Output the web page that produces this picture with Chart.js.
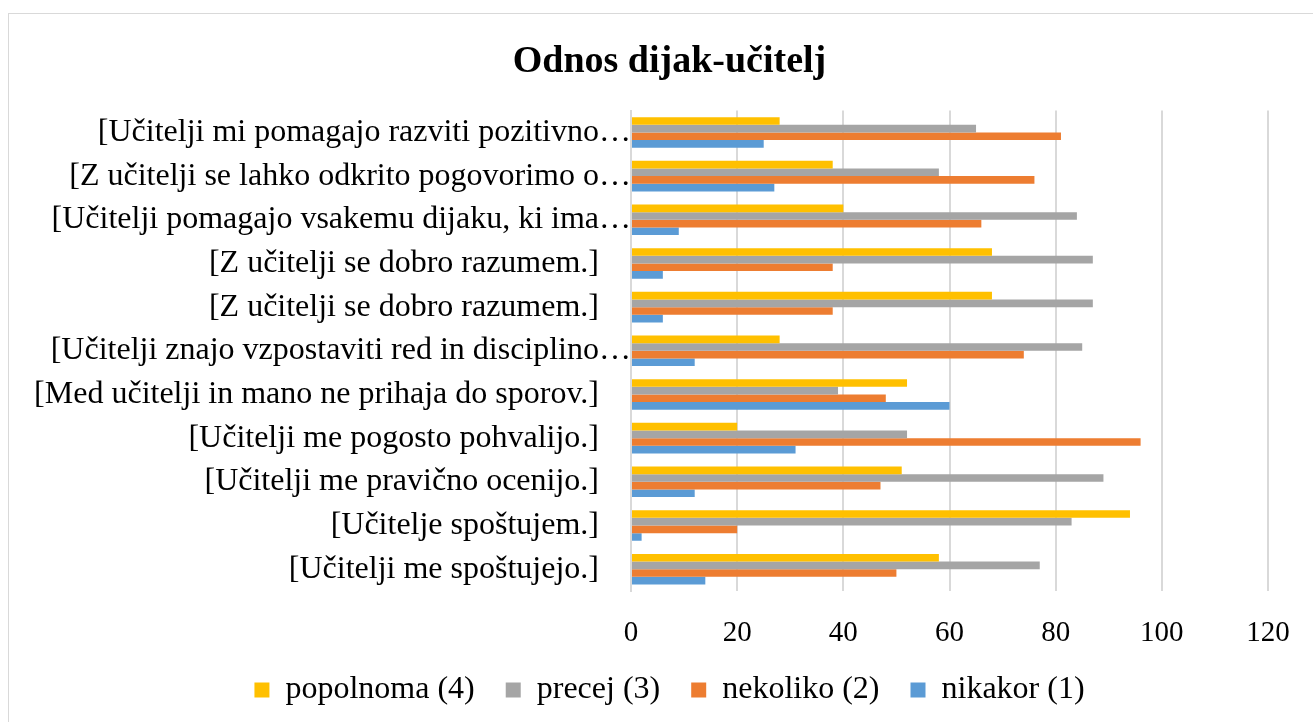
<!DOCTYPE html>
<html>
<head>
<meta charset="utf-8">
<script src="https://cdn.jsdelivr.net/npm/chart.js@4.4.1/dist/chart.umd.min.js"></script>
<style>
  body { margin: 0; background: #fff; }
  #frame { position: absolute; left: 8px; top: 13px; width: 1320px; height: 720px; border: 1px solid #d9d9d9; }
  #wrap { position: absolute; left: 0; top: 0; width: 1313px; height: 722px; }
</style>
</head>
<body>
<div id="frame"></div>
<div id="wrap"><canvas id="chart" width="1313" height="722"></canvas></div>
<script>
// categories, top to bottom as shown
var categories = [
    '[Učitelji mi pomagajo razviti pozitivno…',
    '[Z učitelji se lahko odkrito pogovorimo o…',
    '[Učitelji pomagajo vsakemu dijaku, ki ima…',
    '[Z učitelji se dobro razumem.]',
    '[Z učitelji se dobro razumem.]',
    '[Učitelji znajo vzpostaviti red in disciplino…',
    '[Med učitelji in mano ne prihaja do sporov.]',
    '[Učitelji me pogosto pohvalijo.]',
    '[Učitelji me pravično ocenijo.]',
    '[Učitelje spoštujem.]',
    '[Učitelji me spoštujejo.]'
];
var seriesNames = ['popolnoma (4)', 'precej (3)', 'nekoliko (2)', 'nikakor (1)'];
var popolnoma = [28, 38, 40, 68, 68, 28, 52, 20, 51, 94, 58];
var precej    = [65, 58, 84, 87, 87, 85, 39, 52, 89, 83, 77];
var nekoliko  = [81, 76, 66, 38, 38, 74, 48, 96, 47, 20, 50];
var nikakor   = [25, 27,  9,  6,  6, 12, 60, 31, 12,  2, 14];
var xTicks = [0, 20, 40, 60, 80, 100, 120];

var colors = ['#FFC000', '#A5A5A5', '#ED7D31', '#5B9BD5'];
var serif = "'Liberation Serif', 'Times New Roman', serif";

function makeSet(i, values) {
    return {
        label: seriesNames[i],
        data: values,
        backgroundColor: colors[i],
        borderWidth: 0,
        barPercentage: 1,
        categoryPercentage: 0.70
    };
}

new Chart(document.getElementById('chart'), {
    type: 'bar',
    data: {
        labels: categories,
        datasets: [
            makeSet(0, popolnoma),
            makeSet(1, precej),
            makeSet(2, nekoliko),
            makeSet(3, nikakor)
        ]
    },
    options: {
        indexAxis: 'y',
        responsive: false,
        animation: false,
        devicePixelRatio: 1,
        layout: { padding: { left: 26, right: 0, top: 0, bottom: 6 } },
        plugins: {
            title: {
                display: true,
                text: 'Odnos dijak-učitelj',
                color: '#000',
                font: { family: serif, size: 38, weight: 'bold' },
                padding: { top: 39, bottom: 26 }
            },
            legend: {
                position: 'bottom',
                labels: {
                    color: '#000',
                    font: { family: serif, size: 32 },
                    boxWidth: 15,
                    boxHeight: 15,
                    padding: 31
                }
            },
            tooltip: { enabled: false }
        },
        scales: {
            x: {
                min: 0,
                max: 120,
                afterBuildTicks: function(scale) {
                    scale.ticks = xTicks.map(function(v){ return { value: v }; });
                },
                afterFit: function(scale) {
                    scale.height = 52;
                    scale.paddingRight = 45;
                },
                grid: { color: '#d9d9d9', lineWidth: 2, drawTicks: false },
                border: { display: false },
                ticks: {
                    color: '#000',
                    font: { family: serif, size: 29 },
                    padding: 25
                }
            },
            y: {
                afterFit: function(scale) { scale.width = 605; },
                grid: { display: false, drawTicks: false },
                border: { display: true, color: '#d9d9d9', width: 2 },
                ticks: {
                    color: '#000',
                    font: { family: serif, size: 32 },
                    padding: 0,
                    autoSkip: false,
                    callback: function(value) {
                        var s = this.getLabelForValue(value);
                        // full labels stop short of the axis, clipped ones run up to it
                        return s.charAt(s.length - 1) === '…' ? s : s + '\u2003';
                    }
                }
            }
        }
    }
});
</script>
</body>
</html>
